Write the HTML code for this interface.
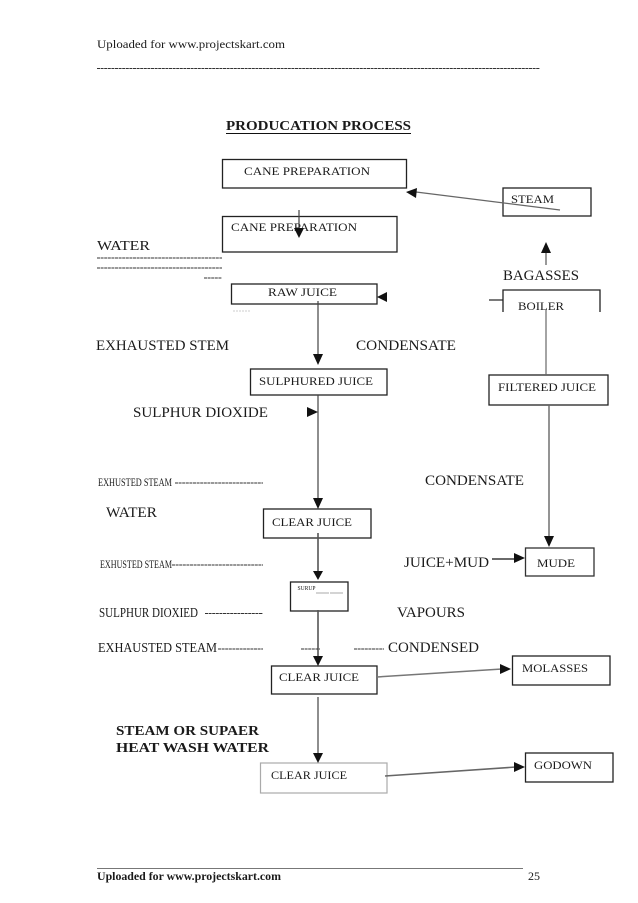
<!DOCTYPE html>
<html>
<head>
<meta charset="utf-8">
<style>
html,body{margin:0;padding:0;background:#fff;width:638px;height:903px;overflow:hidden}
svg{display:block;filter:blur(.3px)}
text{font-family:"Liberation Serif",serif;fill:#1a1a1a}
.b{fill:none;stroke:#222;stroke-width:1.3}
.l{stroke:#444;stroke-width:1.2;fill:none}
.d{stroke:#333;stroke-width:1;stroke-dasharray:3 .6;fill:none}
.a{fill:#111}
</style>
</head>
<body>
<svg width="638" height="903" viewBox="0 0 638 903" xmlns="http://www.w3.org/2000/svg">
<text x="97" y="48" font-size="12" textLength="188" lengthAdjust="spacingAndGlyphs">Uploaded for www.projectskart.com</text>
<line x1="97" y1="68.500" x2="540" y2="68.500" class="d"/>

<text x="226" y="130" font-size="14" font-weight="bold" textLength="185" lengthAdjust="spacingAndGlyphs">PRODUCATION PROCESS</text>
<line x1="226" y1="133.500" x2="411" y2="133.500" stroke="#111" stroke-width="1"/>

<!-- boxes -->
<rect x="222.500" y="159.500" width="184" height="28.500" class="b"/>
<text x="244" y="175" font-size="12" textLength="126" lengthAdjust="spacingAndGlyphs">CANE PREPARATION</text>
<rect x="222.500" y="216.500" width="174.500" height="35.500" class="b"/>
<text x="231" y="231" font-size="12" textLength="126" lengthAdjust="spacingAndGlyphs">CANE PREPARATION</text>
<rect x="231.500" y="284" width="145.500" height="20" class="b"/>
<text x="268" y="296" font-size="12" textLength="69" lengthAdjust="spacingAndGlyphs">RAW JUICE</text>
<rect x="503" y="188" width="88" height="28" class="b"/>
<text x="511" y="203" font-size="12" textLength="43" lengthAdjust="spacingAndGlyphs">STEAM</text>
<path d="M503 312V290H600V312" class="b"/>
<line x1="489" y1="300" x2="503" y2="300" stroke="#222" stroke-width="1.2"/>
<text x="518" y="310" font-size="12" textLength="46" lengthAdjust="spacingAndGlyphs">BOILER</text>
<rect x="489" y="375" width="119" height="30" class="b"/>
<text x="498" y="391" font-size="12" textLength="98" lengthAdjust="spacingAndGlyphs">FILTERED JUICE</text>
<rect x="250.500" y="369" width="136.500" height="26" class="b"/>
<text x="259" y="385" font-size="12" textLength="114" lengthAdjust="spacingAndGlyphs">SULPHURED JUICE</text>
<rect x="263.500" y="509" width="107.500" height="29" class="b"/>
<text x="272" y="526" font-size="12" textLength="80" lengthAdjust="spacingAndGlyphs">CLEAR JUICE</text>
<rect x="290.500" y="582" width="57.500" height="29" class="b"/>
<text x="297.500" y="590" font-size="6" textLength="18" lengthAdjust="spacingAndGlyphs">SURUP</text>
<line x1="316" y1="593" x2="343" y2="593" stroke="#aaa" stroke-width="1" stroke-dasharray="13 1"/>
<rect x="271.500" y="666" width="105.500" height="28" class="b"/>
<text x="279" y="681" font-size="12" textLength="80" lengthAdjust="spacingAndGlyphs">CLEAR JUICE</text>
<rect x="260.500" y="763" width="126.500" height="30" fill="none" stroke="#aaa" stroke-width="1.200"/>
<text x="271" y="779" font-size="12" textLength="76" lengthAdjust="spacingAndGlyphs">CLEAR JUICE</text>
<rect x="525.500" y="548" width="68.500" height="28" fill="none" stroke="#333" stroke-width="1.300"/>
<text x="537" y="567" font-size="12" textLength="38" lengthAdjust="spacingAndGlyphs">MUDE</text>
<rect x="512.500" y="656" width="97.500" height="29" class="b"/>
<text x="522" y="672" font-size="12" textLength="66" lengthAdjust="spacingAndGlyphs">MOLASSES</text>
<rect x="525.500" y="753" width="87.500" height="29" class="b"/>
<text x="534" y="769" font-size="12" textLength="58" lengthAdjust="spacingAndGlyphs">GODOWN</text>

<!-- connectors -->
<line x1="299" y1="210" x2="299" y2="230" class="l"/>
<polygon points="294,228 304,228 299,238" class="a"/>
<line x1="318" y1="301" x2="318" y2="356" class="l"/>
<polygon points="313,354 323,354 318,365" class="a"/>
<line x1="318" y1="395" x2="318" y2="500" class="l"/>
<polygon points="313,498 323,498 318,509" class="a"/>
<line x1="318" y1="533" x2="318" y2="572" stroke="#555" stroke-width="1.600"/>
<polygon points="313,571 323,571 318,580" class="a"/>
<line x1="318" y1="610" x2="318" y2="657" stroke="#555" stroke-width="1.600"/>
<polygon points="313,656 323,656 318,666" class="a"/>
<line x1="318" y1="697" x2="318" y2="755" class="l"/>
<polygon points="313,753 323,753 318,763" class="a"/>
<line x1="416" y1="192" x2="560" y2="210" stroke="#666" stroke-width="1.300"/>
<polygon points="406,192 417,188 416,198" class="a"/>
<line x1="546" y1="265" x2="546" y2="250" stroke="#555" stroke-width="1.200"/>
<polygon points="541,253 551,253 546,242" class="a"/>
<polygon points="377,297 387,292 387,302" class="a"/>
<line x1="546" y1="310" x2="546" y2="375" stroke="#666" stroke-width="1.200"/>
<line x1="549" y1="405" x2="549" y2="538" stroke="#666" stroke-width="1.400"/>
<polygon points="544,536 554,536 549,547" class="a"/>
<line x1="492" y1="559" x2="516" y2="559" stroke="#111" stroke-width="1.200"/>
<polygon points="514,553 525,558 514,563" class="a"/>
<line x1="377" y1="677" x2="502" y2="669" stroke="#777" stroke-width="1.500"/>
<polygon points="500,664 511,669 500,674" class="a"/>
<line x1="385" y1="776" x2="516" y2="767" stroke="#666" stroke-width="1.600"/>
<polygon points="514,762 525,767 514,772" class="a"/>
<polygon points="307,407 318,412 307,417" class="a"/>

<!-- left labels -->
<text x="97" y="250" font-size="14" textLength="53" lengthAdjust="spacingAndGlyphs">WATER</text>
<line x1="97" y1="258" x2="222" y2="258" class="d"/>
<line x1="97" y1="268" x2="222" y2="268" class="d"/>
<line x1="204" y1="278" x2="222" y2="278" class="d"/>
<line x1="233" y1="311" x2="251" y2="311" stroke="#ccc" stroke-width="1" stroke-dasharray="2 1"/>
<text x="96" y="350" font-size="14.500" textLength="133" lengthAdjust="spacingAndGlyphs">EXHAUSTED STEM</text>
<text x="356" y="350" font-size="14.500" textLength="100" lengthAdjust="spacingAndGlyphs">CONDENSATE</text>
<text x="503" y="280" font-size="14.500" textLength="76" lengthAdjust="spacingAndGlyphs">BAGASSES</text>
<text x="133" y="417" font-size="14.500" textLength="135" lengthAdjust="spacingAndGlyphs">SULPHUR DIOXIDE</text>
<text x="98" y="486" font-size="11.500" textLength="74" lengthAdjust="spacingAndGlyphs">EXHUSTED STEAM</text>
<line x1="175" y1="483" x2="263" y2="483" class="d"/>
<text x="425" y="485" font-size="14.500" textLength="99" lengthAdjust="spacingAndGlyphs">CONDENSATE</text>
<text x="106" y="517" font-size="14.500" textLength="51" lengthAdjust="spacingAndGlyphs">WATER</text>
<text x="100" y="568" font-size="11.500" textLength="72" lengthAdjust="spacingAndGlyphs">EXHUSTED STEAM</text>
<line x1="172" y1="565" x2="263" y2="565" class="d"/>
<text x="404" y="567" font-size="14.500" textLength="85" lengthAdjust="spacingAndGlyphs">JUICE+MUD</text>
<text x="99" y="617" font-size="14" textLength="99" lengthAdjust="spacingAndGlyphs">SULPHUR DIOXIED</text>
<line x1="205" y1="613.500" x2="263" y2="613.500" class="d"/>
<text x="397" y="617" font-size="14.500" textLength="68" lengthAdjust="spacingAndGlyphs">VAPOURS</text>
<text x="98" y="652" font-size="14" textLength="119" lengthAdjust="spacingAndGlyphs">EXHAUSTED STEAM</text>
<line x1="218" y1="649" x2="263" y2="649" class="d"/>
<line x1="301" y1="649" x2="320" y2="649" class="d"/>
<line x1="354" y1="649" x2="384" y2="649" class="d"/>
<text x="388" y="652" font-size="14.500" textLength="91" lengthAdjust="spacingAndGlyphs">CONDENSED</text>
<text x="116" y="735" font-size="14" font-weight="bold" textLength="143" lengthAdjust="spacingAndGlyphs">STEAM OR SUPAER</text>
<text x="116" y="752" font-size="14" font-weight="bold" textLength="153" lengthAdjust="spacingAndGlyphs">HEAT WASH WATER</text>

<!-- footer -->
<line x1="97" y1="868.500" x2="523" y2="868.500" stroke="#777" stroke-width="1"/>
<text x="97" y="880" font-size="12" font-weight="bold" textLength="184" lengthAdjust="spacingAndGlyphs">Uploaded for www.projectskart.com</text>
<text x="528" y="880" font-size="12">25</text>
</svg>
</body>
</html>
